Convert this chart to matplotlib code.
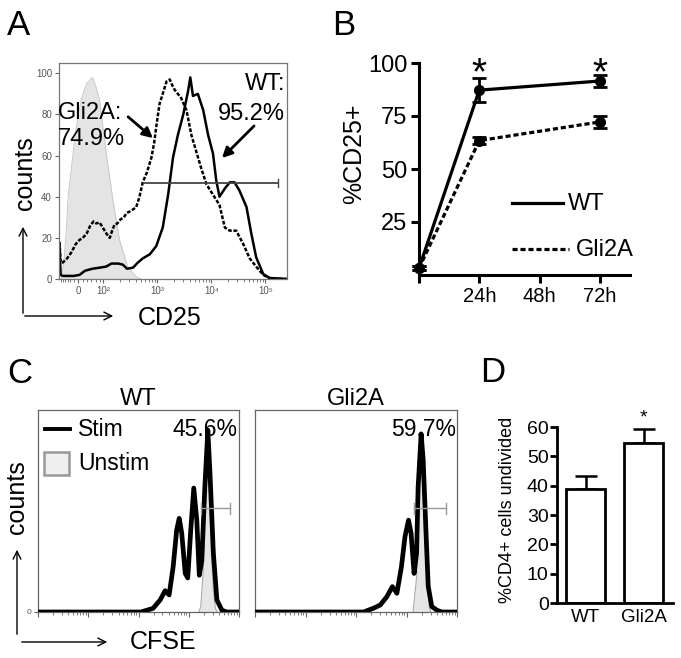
import matplotlib
matplotlib.use('Agg')
import matplotlib.pyplot as plt
from matplotlib.lines import Line2D
from matplotlib.patches import Rectangle, FancyArrowPatch
import numpy as np

plt.rcParams['font.family'] = ['Liberation Sans', 'DejaVu Sans']

# ---------------- DATA ----------------
# Panel A: CD25 histograms (x in log10 display units, y = % of max counts)
a_unstim_x = [1.22, 1.27, 1.31, 1.35, 1.41, 1.47, 1.53, 1.60, 1.69, 1.80, 1.87, 1.93, 2.05, 2.18, 2.30, 2.45, 2.61, 2.70]
a_unstim_y = [0, 8, 22, 40, 54, 68, 79, 88, 95, 98, 93, 87, 62, 38, 19, 6, 1, 0]

a_gli_x = [1.19, 1.21, 1.25, 1.33, 1.41, 1.49, 1.56, 1.62, 1.69, 1.76, 1.82, 1.87, 1.93, 1.99, 2.06,
           2.12, 2.17, 2.21, 2.26, 2.32, 2.38, 2.43, 2.50, 2.56, 2.61, 2.67, 2.73, 2.81, 2.89, 2.94,
           2.98, 3.04, 3.10, 3.17, 3.23, 3.28, 3.32, 3.38, 3.44, 3.54, 3.63, 3.72, 3.81, 3.91, 4.03,
           4.15, 4.25, 4.34, 4.46, 4.59, 4.71, 4.83, 4.96, 5.08, 5.39]
a_gli_y = [18, 8, 8, 10, 13, 17, 19, 20, 22, 26, 28, 27, 27.5, 25, 22,
           20, 24, 26.5, 27, 29, 30, 32, 33, 34, 35, 40, 47, 52, 59, 66,
           74, 85, 90, 96, 97, 94, 92, 90, 88, 82, 70, 62, 54, 46, 41,
           36, 25, 23.5, 23.5, 17, 10, 6, 2, 0.3, 0]

a_wt_x = [1.19, 1.21, 1.25, 1.45, 1.56, 1.66, 1.80, 1.93, 2.05, 2.15, 2.28, 2.36, 2.44, 2.55, 2.64,
          2.73, 2.86, 2.98, 3.10, 3.20, 3.29, 3.38, 3.48, 3.57, 3.61, 3.66, 3.75, 3.85, 3.94, 4.03,
          4.09, 4.15, 4.25, 4.34, 4.43, 4.52, 4.65, 4.74, 4.83, 4.96, 5.08, 5.40]
a_wt_y = [17, 2, 1.5, 1.5, 2, 4, 5, 5.5, 6, 7.5, 7.5, 7, 5, 5.5, 8,
          10, 12, 16, 25, 41, 59, 70, 80, 91.5, 98, 89, 90, 82, 70, 61,
          48, 40, 44, 47, 47, 43, 35, 22, 10.5, 2.4, 0.5, 0]
a_gate = [2.75, 5.23, 46.5]
a_ticks = [1.54, 2, 3, 4, 5]
a_ticklabels = ['0', '10²', '10³', '10⁴', '10⁵']

# Panel B: %CD25+ over time
b_hours = [0, 24, 72]
b_wt = [3.2, 87.2, 91.5]
b_wt_err = [1.0, 5.5, 3.0]
b_gli = [3.2, 63.4, 72.2]
b_gli_err = [1.0, 1.5, 2.8]
b_xticklabels = ['', '24h', '48h', '72h']

# Panel C: CFSE histograms (x in decades, y = counts)
c_wt_stim_x = [0.0, 2.05, 2.17, 2.29, 2.43, 2.53, 2.61, 2.69, 2.76, 2.81, 2.86, 2.93, 2.98, 3.04, 3.10,
               3.16, 3.21, 3.26, 3.32, 3.38, 3.42, 3.49, 3.56, 3.66, 3.75, 4.0]
c_wt_stim_y = [0, 0, 1, 2, 6.5, 11.6, 9.3, 24.7, 44.7, 51, 43, 21, 18.5, 44.7, 67.5,
               50, 20, 28, 68, 99, 77, 32, 6.5, 1, 0, 0]
c_wt_unstim_x = [3.20, 3.24, 3.29, 3.33, 3.37, 3.41, 3.45, 3.49, 3.53, 3.57]
c_wt_unstim_y = [0, 3, 23, 60, 85, 70, 35, 12, 2, 0]

c_gli_stim_x = [0.0, 2.15, 2.34, 2.48, 2.61, 2.72, 2.81, 2.90, 2.97, 3.04, 3.09, 3.15, 3.20, 3.23,
                3.29, 3.33, 3.39, 3.43, 3.50, 3.60, 3.70, 4.0]
c_gli_stim_y = [0, 0, 2, 3.8, 8.3, 13.8, 10.2, 24.7, 41, 50, 43, 21, 32, 68,
                97, 83, 41, 14, 3, 1, 0, 0]
c_gli_unstim_x = [3.13, 3.20, 3.24, 3.28, 3.32, 3.36, 3.40, 3.45, 3.48]
c_gli_unstim_y = [0, 19, 55, 85, 70, 40, 19, 3, 0]
c_wt_gate = [3.24, 3.82, 56.5]
c_gli_gate = [3.15, 3.79, 56.5]
c_wt_pct = '45.6%'
c_gli_pct = '59.7%'

# Panel D: % undivided
d_groups = ['WT', 'Gli2A']
d_vals = [39.0, 54.5]
d_errs = [4.2, 4.9]

# ---------------- FIGURE ----------------
W, H = 681, 658
fig = plt.figure(figsize=(W / 100, H / 100), dpi=100)


def rect(l, t, r, b):
    return [l / W, 1 - b / H, (r - l) / W, (b - t) / H]


def fx(x):
    return x / W


def fy(y):
    return 1 - y / H


def ftext(x, y, s, **kw):
    return fig.text(fx(x), fy(y), s, **kw)


def farrow(x0, y0, x1, y1, style='->', lw=1.0, ms=12, color='black'):
    a = FancyArrowPatch((fx(x0), fy(y0)), (fx(x1), fy(y1)), transform=fig.transFigure,
                        arrowstyle=style, mutation_scale=ms, lw=lw, color=color)
    fig.add_artist(a)


def fline(xs, ys, **kw):
    fig.add_artist(Line2D([fx(x) for x in xs], [fy(y) for y in ys], transform=fig.transFigure, **kw))


# Panel letters
for (lx, ly, lab) in [(7, 35, 'A'), (332, 35, 'B'), (7, 383, 'C'), (480, 382, 'D')]:
    ftext(lx, ly, lab, fontsize=25, va='baseline', ha='left')

# ---- Panel A ----
axA = fig.add_axes(rect(59, 63, 287, 279))
axA.fill_between(a_unstim_x, a_unstim_y, color='#e4e4e4', lw=0)
axA.plot(a_unstim_x, a_unstim_y, color='#c8c8c8', lw=0.7)
axA.plot(a_gli_x, a_gli_y, color='black', lw=1.8, ls=(0, (1.5, 0.7)))
axA.plot(a_wt_x, a_wt_y, color='black', lw=1.8)
axA.plot([a_gate[0], a_gate[1]], [a_gate[2], a_gate[2]], color='#444444', lw=1.3)
axA.plot([a_gate[1], a_gate[1]], [a_gate[2] - 2, a_gate[2] + 2], color='#444444', lw=1.0)
axA.set_xlim(1.18, 5.40)
axA.set_ylim(0, 105)
axA.set_yticks([0, 20, 40, 60, 80, 100])
axA.set_xticks(a_ticks)
axA.set_xticklabels(a_ticklabels)
minorA = [1.22, 1.26, 1.30, 1.34, 1.38, 1.46, 1.62, 1.70, 1.78, 1.86, 1.93]
for d in [2, 3, 4]:
    minorA += [d + np.log10(k) for k in range(2, 10)]
axA.set_xticks(minorA, minor=True)
axA.tick_params(axis='both', which='major', labelsize=7, labelcolor='#555555', color='#666666',
                length=3, width=0.8, pad=2)
axA.tick_params(axis='x', which='minor', length=2, width=0.6, color='#666666')
for s in axA.spines.values():
    s.set_color('#777777')
    s.set_linewidth(0.9)

ftext(58, 113, 'Gli2A:', fontsize=17, ha='left', va='center')
ftext(58, 139, '74.9%', fontsize=17, ha='left', va='center')
ftext(285, 84, 'WT:', fontsize=17, ha='right', va='center')
ftext(285, 114, '95.2%', fontsize=17, ha='right', va='center')
farrow(126, 115, 155, 140, style='-|>', lw=2.0, ms=15)
farrow(256, 124, 220, 160, style='-|>', lw=2.0, ms=15)

ftext(25, 173, 'counts', fontsize=18, rotation=90, ha='center', va='center')
farrow(23, 316, 23, 224, lw=1.0, ms=14)
farrow(22, 316, 116, 316, lw=1.0, ms=14)
ftext(170, 318, 'CD25', fontsize=18, ha='center', va='center')

# ---- Panel B ----
axB = fig.add_axes(rect(419, 63, 630, 275))
axB.errorbar(b_hours, b_wt, yerr=b_wt_err, color='black', lw=2.3, marker='o', ms=7,
             capsize=5, capthick=2, elinewidth=2, clip_on=False, zorder=3)
axB.errorbar(b_hours, b_gli, yerr=b_gli_err, color='black', lw=2.3, ls=(0, (1.6, 0.9)), marker='o',
             ms=7, capsize=5, capthick=2, elinewidth=2, clip_on=False, zorder=3)
axB.set_xlim(0, 84)
axB.set_ylim(0, 100)
axB.spines['top'].set_visible(False)
axB.spines['right'].set_visible(False)
for s in ['left', 'bottom']:
    axB.spines[s].set_linewidth(2.2)
axB.set_yticks([25, 50, 75, 100])
axB.set_xticks([0, 24, 48, 72])
axB.set_xticklabels(b_xticklabels)
axB.tick_params(axis='y', length=5.5, width=2.2, labelsize=17, pad=3)
axB.tick_params(axis='x', length=5.5, width=2.2, labelsize=14.5, pad=3)
for h in [24, 72]:
    axB.text(h, 90, '*', fontsize=28, ha='center', va='baseline', clip_on=False)
ftext(354, 154, '%CD25+', fontsize=18, rotation=90, ha='center', va='center')
fline([512, 563], [203, 203], color='black', lw=2.3)
ftext(568, 204, 'WT', fontsize=17, ha='left', va='center')
fline([512, 569], [249, 249], color='black', lw=2.3, ls=(0, (1.6, 0.9)))
ftext(576, 250, 'Gli2A', fontsize=17, ha='left', va='center')


# ---- Panel C ----
def cfse_panel(rc, sx, sy, ux, uy, gate, pct, title, show_zero):
    ax = fig.add_axes(rc)
    ax.fill_between(ux, uy, color='#e6e6e6', lw=0, zorder=1)
    ax.plot(ux, uy, color='#aaaaaa', lw=0.8, zorder=2)
    ax.plot(sx, sy, color='black', lw=3.4, zorder=3, solid_joinstyle='round')
    ax.plot([gate[0], gate[1]], [gate[2], gate[2]], color='#999999', lw=1.0, zorder=4)
    for gx in gate[:2]:
        ax.plot([gx, gx], [gate[2] - 3, gate[2] + 3], color='#999999', lw=1.0, zorder=4)
    ax.set_xlim(0, 4)
    ax.set_ylim(0, 110)
    ax.set_xticks([0, 1, 2, 3, 4])
    ax.set_xticklabels([])
    mn = []
    for d in range(4):
        mn += [d + np.log10(k) for k in range(2, 10)]
    ax.set_xticks(mn, minor=True)
    ax.tick_params(axis='x', which='major', length=3.5, width=0.8, color='#666666')
    ax.tick_params(axis='x', which='minor', length=2, width=0.6, color='#666666')
    if show_zero:
        ax.set_yticks([0])
        ax.set_yticklabels(['0'])
        ax.tick_params(axis='y', length=3, width=0.8, labelsize=6, labelcolor='#555555', color='#666666', pad=2)
    else:
        ax.set_yticks([])
    for s in ax.spines.values():
        s.set_color('#666666')
        s.set_linewidth(0.9)
    ax.text(0.995, 0.905, pct, transform=ax.transAxes, fontsize=16.5, ha='right', va='center', zorder=5)
    ax.set_title(title, fontsize=17, pad=2)
    return ax


axC1 = cfse_panel(rect(38, 410, 239, 612), c_wt_stim_x, c_wt_stim_y, c_wt_unstim_x, c_wt_unstim_y,
                  c_wt_gate, c_wt_pct, 'WT', True)
axC2 = cfse_panel(rect(255, 410, 457, 612), c_gli_stim_x, c_gli_stim_y, c_gli_unstim_x, c_gli_unstim_y,
                  c_gli_gate, c_gli_pct, 'Gli2A', False)

fline([45, 70], [429, 429], color='black', lw=2.8)
ftext(78, 430, 'Stim', fontsize=16.5, ha='left', va='center')
fig.add_artist(Rectangle((fx(44), fy(475)), (69 - 44) / W, (475 - 452) / H, transform=fig.transFigure,
                         facecolor='#eeeeee', edgecolor='#999999', lw=1.8))
ftext(78, 463, 'Unstim', fontsize=16.5, ha='left', va='center')

ftext(17, 497, 'counts', fontsize=18, rotation=90, ha='center', va='center')
farrow(17, 637, 17, 547, lw=1.0, ms=14)
farrow(19, 642, 110, 642, lw=1.0, ms=14)
ftext(163, 642, 'CFSE', fontsize=18, ha='center', va='center')

# ---- Panel D ----
axD = fig.add_axes(rect(557, 427, 673, 603))
xpos = np.arange(len(d_groups))
axD.bar(xpos, d_vals, width=0.67, color='white', edgecolor='black', lw=2.0, zorder=2)
axD.errorbar(xpos, d_vals, yerr=[[0] * len(d_errs), d_errs], fmt='none', ecolor='black',
             elinewidth=1.8, capsize=8, capthick=1.8, zorder=1)
axD.set_xlim(-0.49, 1.5)
axD.set_ylim(0, 60)
axD.spines['top'].set_visible(False)
axD.spines['right'].set_visible(False)
for s in ['left', 'bottom']:
    axD.spines[s].set_linewidth(2.0)
axD.set_yticks(range(0, 61, 10))
axD.set_xticks(xpos)
axD.set_xticklabels(d_groups)
axD.tick_params(axis='y', length=5, width=2.0, labelsize=14, pad=1)
axD.tick_params(axis='x', length=0, labelsize=13.5, pad=4)
axD.text(1, 61.4, '*', fontsize=14, ha='center', va='baseline', clip_on=False)
ftext(507, 510, '%CD4+ cells undivided', fontsize=13, rotation=90, ha='center', va='center')

fig.savefig('out.png', dpi=100)
